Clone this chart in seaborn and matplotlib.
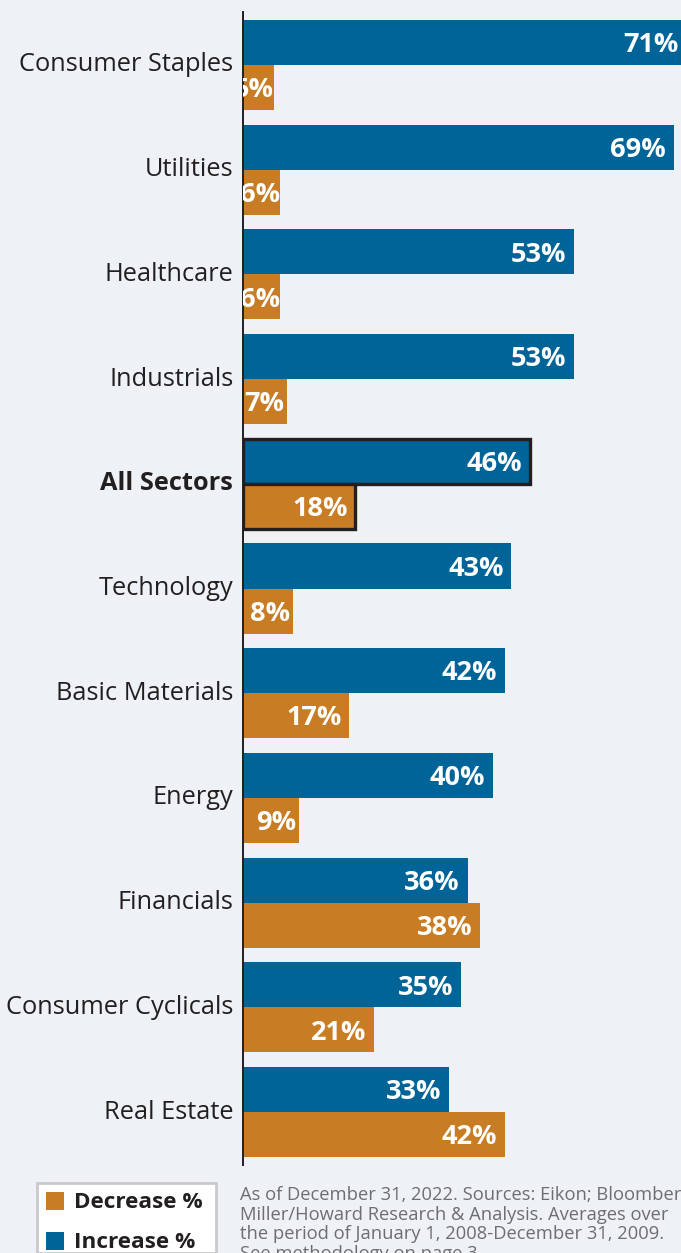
import matplotlib
matplotlib.use("Agg")
import matplotlib.pyplot as plt
import matplotlib.transforms as mtransforms
import seaborn as sns
import pandas as pd
from matplotlib.patches import Rectangle

categories = ["Consumer Staples", "Utilities", "Healthcare", "Industrials", "All Sectors",
              "Technology", "Basic Materials", "Energy", "Financials",
              "Consumer Cyclicals", "Real Estate"]
increase = [71, 69, 53, 53, 46, 43, 42, 40, 36, 35, 33]
decrease = [5, 6, 6, 7, 18, 8, 17, 9, 38, 21, 42]
series = ["Increase %", "Decrease %"]
legend_order = ["Decrease %", "Increase %"]
highlight = "All Sectors"
footnote = ("As of December 31, 2022. Sources: Eikon; Bloomberg;\n"
            "Miller/Howard Research & Analysis. Averages over\n"
            "the period of January 1, 2008-December 31, 2009.\n"
            "See methodology on page 3.")

BLUE = "#006498"
ORANGE = "#C87D25"
BG = "#EEF1F6"
TXT = "#231F20"

df = pd.DataFrame({
    "Sector": categories * 2,
    "Value": increase + decrease,
    "Type": [series[0]] * len(categories) + [series[1]] * len(categories),
})

sns.set_theme(style="white")
plt.rcParams["font.family"] = ["Open Sans", "DejaVu Sans"]

W, H = 681, 1253
fig = plt.figure(figsize=(W / 100, H / 100), dpi=100, facecolor=BG)
ax_left = 243 / W
ax_top = 12 / H
ax_bot = 1165 / H
ax = fig.add_axes([ax_left, 1 - ax_bot, 1 - ax_left, ax_bot - ax_top])
ax.set_facecolor(BG)

palette = {series[0]: BLUE, series[1]: ORANGE}
sns.barplot(data=df, y="Sector", x="Value", hue="Type", order=categories,
            hue_order=series, palette=palette, orient="h", width=0.86,
            dodge=True, saturation=1, legend=False, ax=ax, linewidth=0)

px_per = 6.24
ax.set_xlim(0, (W - 243) / px_per)
ax.set_ylim(len(categories) - 1 + 0.506, -0.506)

# value labels & highlight
hi = categories.index(highlight)
for container, vals in zip(ax.containers, [increase, decrease]):
    for i, (bar, v) in enumerate(zip(container, vals)):
        y = bar.get_y() + bar.get_height() / 2
        pad = -5.5 if v >= 10 else (-2.0 if v >= 7 else -0.3)
        ax.annotate(f"{v}%", xy=(bar.get_width(), y), xytext=(pad, -2),
                    textcoords="offset points", ha="right", va="center",
                    color="white", fontsize=19.5, fontweight="bold",
                    annotation_clip=False, clip_on=True)
        if i == hi:
            bar.set_edgecolor("#231F20")
            bar.set_linewidth(2.4)

for s in ["top", "right", "bottom"]:
    ax.spines[s].set_visible(False)
ax.spines["left"].set_color("#231F20")
ax.spines["left"].set_linewidth(1.4)
ax.set_xticks([])
ax.set_xlabel("")
ax.set_ylabel("")
ax.tick_params(axis="y", length=0, pad=7, labelsize=18.3, labelcolor=TXT)
shift = mtransforms.ScaledTranslation(0, 3 / 100, fig.dpi_scale_trans)
for lab in ax.get_yticklabels():
    lab.set_transform(lab.get_transform() + shift)
    if lab.get_text() == highlight:
        lab.set_fontweight("bold")

# legend box
lx0, ly0, lx1 = 37, 1183, 216
fig.patches.append(Rectangle((lx0 / W, 0), (lx1 - lx0) / W, 1 - ly0 / H,
                             transform=fig.transFigure, facecolor="white",
                             edgecolor="#C8CACC", linewidth=2))
for name, yy in zip(legend_order, [1201, 1241]):
    col = ORANGE if name.startswith("Decrease") else BLUE
    fig.patches.append(Rectangle((46 / W, 1 - (yy + 9) / H), 18 / W, 18 / H,
                                 transform=fig.transFigure, facecolor=col,
                                 edgecolor="none"))
    fig.text(74 / W, 1 - (yy + 1) / H, name, ha="left", va="center", fontsize=16.2,
             fontweight="bold", color=TXT)

fig.text(240 / W, 1 - 1186 / H, footnote, ha="left", va="top", fontsize=13.2,
         color="#6D6E71", linespacing=1.12)

fig.savefig("out.png", dpi=100, facecolor=BG)
